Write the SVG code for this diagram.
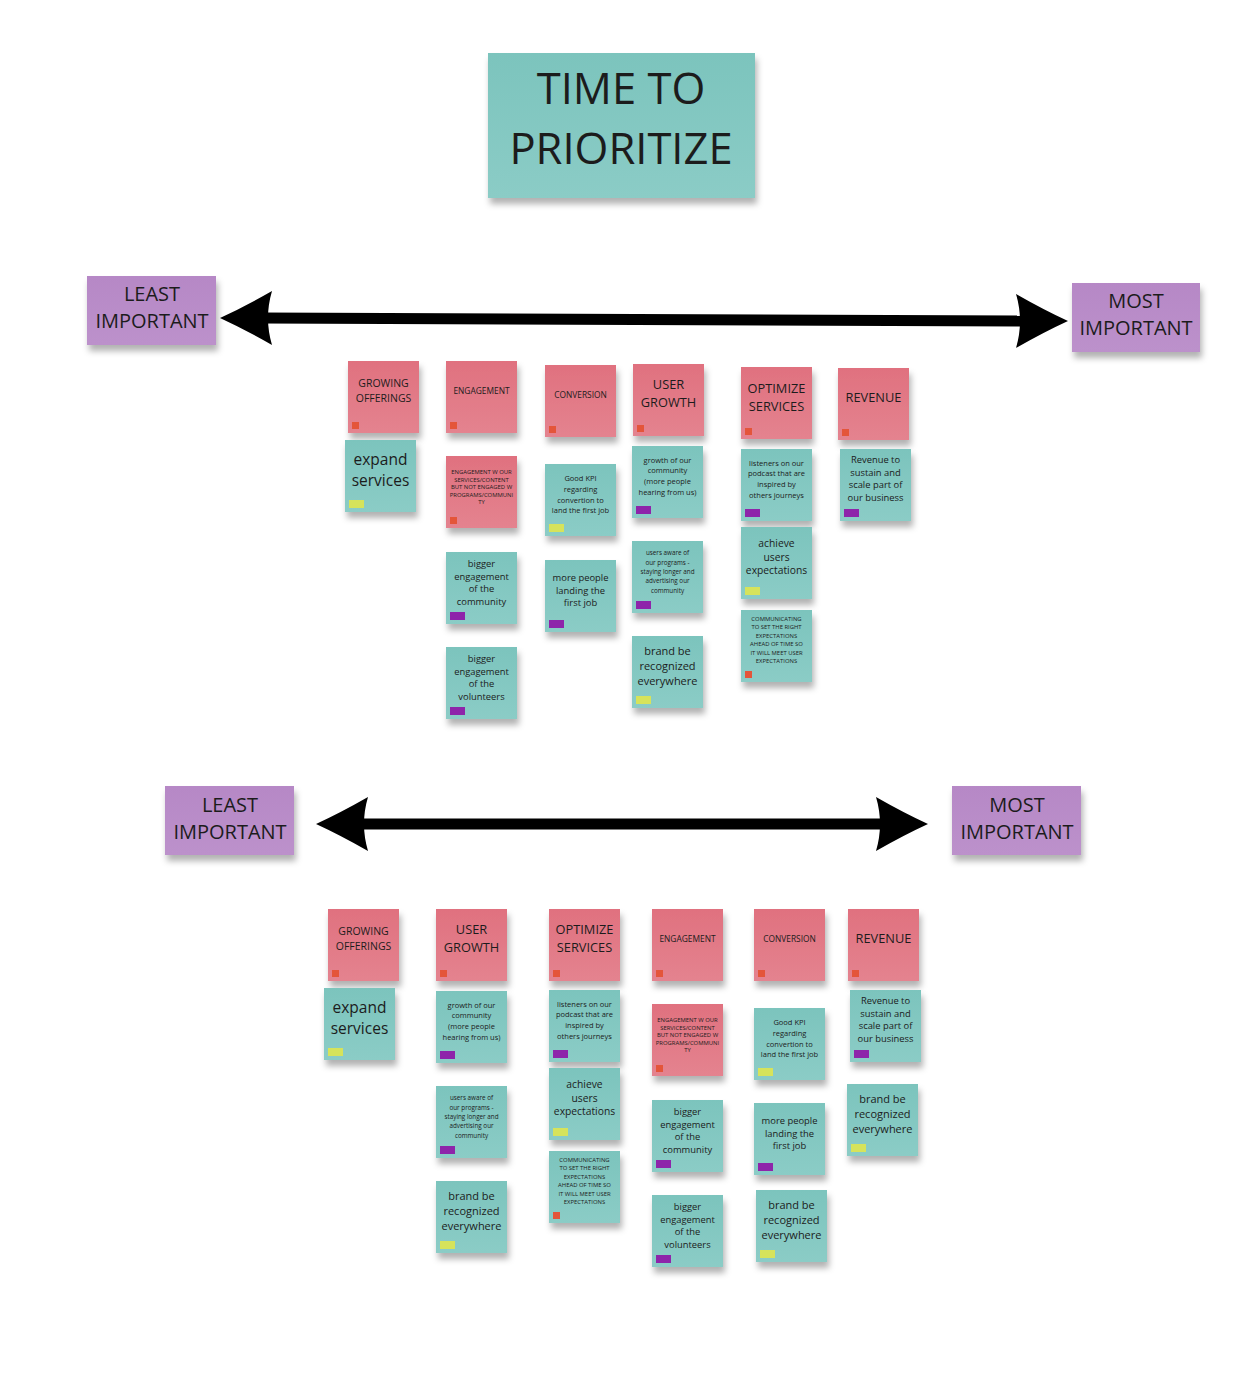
<svg xmlns="http://www.w3.org/2000/svg" xmlns:xlink="http://www.w3.org/1999/xlink" width="1258" height="1378" viewBox="0 0 1258 1378">
<style>
text{font-family:"Open Sans","DejaVu Sans",sans-serif;fill:#1c1c1c;text-anchor:middle}
.t{fill:url(#gT);filter:url(#sh)}
.p{fill:url(#gP);filter:url(#sh)}
.v{fill:url(#gV);filter:url(#sh)}
.ty{fill:#D6E35B}
.tp{fill:#8E24AA}
.tr{fill:#E4553A}
.f5{font-size:5.9px}
.f6{font-size:6.3px}
.f7{font-size:7.5px}
.f8{font-size:8.4px}
.f9{font-size:9.4px}
.f10{font-size:10.3px}
.f10h{font-size:10.5px}
.f11{font-size:11px}
.f13{font-size:12.8px}
.f15{font-size:15.5px}
.f20{font-size:20px}
.f45{font-size:43.5px}
.line{stroke:#000;stroke-width:11;fill:none}
.head{fill:#000}
</style>
<defs>
<linearGradient id="gT" x1="0" y1="0" x2="0" y2="1"><stop offset="0" stop-color="#7CC4BD"/><stop offset="1" stop-color="#8BCCC6"/></linearGradient>
<linearGradient id="gP" x1="0" y1="0" x2="0" y2="1"><stop offset="0" stop-color="#E0717F"/><stop offset="1" stop-color="#E4838F"/></linearGradient>
<linearGradient id="gV" x1="0" y1="0" x2="0" y2="1"><stop offset="0" stop-color="#B688C6"/><stop offset="1" stop-color="#BC91CB"/></linearGradient>
<filter id="sh" x="-20%" y="-20%" width="140%" height="160%"><feDropShadow dx="2" dy="6" stdDeviation="3" flood-color="#000" flood-opacity="0.3"/></filter>
<path id="ah" class="head" d="M0,0 Q24,-11 52,-27 Q44,0 52,27 Q24,11 0,0 Z"/>
</defs>
<rect width="1258" height="1378" fill="#fff"/>

<g id="connectors">
<path class="line" d="M262,318 L1026,321"/>
<use xlink:href="#ah" transform="translate(220,318)"/>
<use xlink:href="#ah" transform="translate(1068,321) scale(-1,1)"/>
<path class="line" d="M360,824 L886,824"/>
<use xlink:href="#ah" transform="translate(316,824)"/>
<use xlink:href="#ah" transform="translate(928,824) scale(-1,1)"/>
</g>

<g id="title" transform="translate(488,53)"><rect class="t" width="267" height="145"/><text class="f45" x="133" y="51">TIME TO</text><text class="f45" x="133" y="111">PRIORITIZE</text></g>

<g id="least-top" transform="translate(87,276)"><rect class="v" width="129" height="69"/><text class="f20" x="65" y="25">LEAST</text><text class="f20" x="65" y="52">IMPORTANT</text></g>
<g id="most-top" transform="translate(1072,283)"><rect class="v" width="128" height="69"/><text class="f20" x="64" y="25">MOST</text><text class="f20" x="64" y="52">IMPORTANT</text></g>
<g id="least-bottom" transform="translate(165,786)"><rect class="v" width="129" height="69"/><text class="f20" x="65" y="26">LEAST</text><text class="f20" x="65" y="53">IMPORTANT</text></g>
<g id="most-bottom" transform="translate(952,786)"><rect class="v" width="129" height="69"/><text class="f20" x="65" y="26">MOST</text><text class="f20" x="65" y="53">IMPORTANT</text></g>

<!-- TOP headers -->
<g id="top-h-growing" transform="translate(348,361)"><rect class="p" width="71" height="72"/><text class="f10h" x="35.5" y="26">GROWING</text><text class="f10h" x="35.5" y="41">OFFERINGS</text><rect class="tr" x="4" y="61" width="7" height="7"/></g>
<g id="top-h-engagement" transform="translate(446,361)"><rect class="p" width="71" height="72"/><text class="f8" x="35.5" y="33">ENGAGEMENT</text><rect class="tr" x="4" y="61" width="7" height="7"/></g>
<g id="top-h-conversion" transform="translate(545,365)"><rect class="p" width="71" height="72"/><text class="f8" x="35.5" y="33">CONVERSION</text><rect class="tr" x="4" y="61" width="7" height="7"/></g>
<g id="top-h-usergrowth" transform="translate(633,364)"><rect class="p" width="71" height="72"/><text class="f13" x="35.5" y="25">USER</text><text class="f13" x="35.5" y="43">GROWTH</text><rect class="tr" x="4" y="61" width="7" height="7"/></g>
<g id="top-h-optimize" transform="translate(741,367)"><rect class="p" width="71" height="72"/><text class="f13" x="35.5" y="26">OPTIMIZE</text><text class="f13" x="35.5" y="44">SERVICES</text><rect class="tr" x="4" y="61" width="7" height="7"/></g>
<g id="top-h-revenue" transform="translate(838,368)"><rect class="p" width="71" height="72"/><text class="f13" x="35.5" y="34">REVENUE</text><rect class="tr" x="4" y="61" width="7" height="7"/></g>

<!-- TOP cards -->
<g id="top-expand" transform="translate(345,440)"><rect class="t" width="71" height="72"/><text class="f15" x="35.5" y="24.5">expand</text><text class="f15" x="35.5" y="45.5">services</text><rect class="ty" x="4" y="60" width="15" height="8"/></g>
<g id="top-eng-note" transform="translate(446,456)"><rect class="p" width="71" height="72"/><text class="f5" x="35.5" y="18">ENGAGEMENT W OUR</text><text class="f5" x="35.5" y="25.5">SERVICES/CONTENT</text><text class="f5" x="35.5" y="33">BUT NOT ENGAGED W</text><text class="f5" x="35.5" y="40.5">PROGRAMS/COMMUNI</text><text class="f5" x="35.5" y="48">TY</text><rect class="tr" x="4" y="61" width="7" height="7"/></g>
<g id="top-bigger-community" transform="translate(446,552)"><rect class="t" width="71" height="72"/><text class="f9" x="35.5" y="14.5">bigger</text><text class="f9" x="35.5" y="27.5">engagement</text><text class="f9" x="35.5" y="39.5">of the</text><text class="f9" x="35.5" y="52.5">community</text><rect class="tp" x="4" y="60" width="15" height="8"/></g>
<g id="top-bigger-volunteers" transform="translate(446,647)"><rect class="t" width="71" height="72"/><text class="f9" x="35.5" y="14.5">bigger</text><text class="f9" x="35.5" y="27.5">engagement</text><text class="f9" x="35.5" y="39.5">of the</text><text class="f9" x="35.5" y="52.5">volunteers</text><rect class="tp" x="4" y="60" width="15" height="8"/></g>
<g id="top-kpi" transform="translate(545,464)"><rect class="t" width="71" height="72"/><text class="f7" x="35.5" y="16.6">Good KPI</text><text class="f7" x="35.5" y="27.6">regarding</text><text class="f7" x="35.5" y="38.6">convertion to</text><text class="f7" x="35.5" y="48.6">land the first job</text><rect class="ty" x="4" y="60" width="15" height="8"/></g>
<g id="top-more-people" transform="translate(545,560)"><rect class="t" width="71" height="72"/><text class="f9" x="35.5" y="21.3">more people</text><text class="f9" x="35.5" y="34.3">landing the</text><text class="f9" x="35.5" y="46.3">first job</text><rect class="tp" x="4" y="60" width="15" height="8"/></g>
<g id="top-growth-community" transform="translate(632,446)"><rect class="t" width="71" height="72"/><text class="f7" x="35.5" y="16.6">growth of our</text><text class="f7" x="35.5" y="26.6">community</text><text class="f7" x="35.5" y="37.6">(more people</text><text class="f7" x="35.5" y="48.6">hearing from us)</text><rect class="tp" x="4" y="60" width="15" height="8"/></g>
<g id="top-users-aware" transform="translate(632,541)"><rect class="t" width="71" height="72"/><text class="f6" x="35.5" y="14.2">users aware of</text><text class="f6" x="35.5" y="23.6">our programs -</text><text class="f6" x="35.5" y="33">staying longer and</text><text class="f6" x="35.5" y="42.4">advertising our</text><text class="f6" x="35.5" y="51.8">community</text><rect class="tp" x="4" y="60" width="15" height="8"/></g>
<g id="top-brand" transform="translate(632,636)"><rect class="t" width="71" height="72"/><text class="f11" x="35.5" y="19">brand be</text><text class="f11" x="35.5" y="34">recognized</text><text class="f11" x="35.5" y="49">everywhere</text><rect class="ty" x="4" y="60" width="15" height="8"/></g>
<g id="top-listeners" transform="translate(741,449)"><rect class="t" width="71" height="72"/><text class="f7" x="35.5" y="16.7">listeners on our</text><text class="f7" x="35.5" y="26.7">podcast that are</text><text class="f7" x="35.5" y="37.7">inspired by</text><text class="f7" x="35.5" y="48.7">others journeys</text><rect class="tp" x="4" y="60" width="15" height="8"/></g>
<g id="top-achieve" transform="translate(741,527)"><rect class="t" width="71" height="72"/><text class="f10" x="35.5" y="19.6">achieve</text><text class="f10" x="35.5" y="33.6">users</text><text class="f10" x="35.5" y="46.6">expectations</text><rect class="ty" x="4" y="60" width="15" height="8"/></g>
<g id="top-communicating" transform="translate(741,610)"><rect class="t" width="71" height="72"/><text class="f5" x="35.5" y="11">COMMUNICATING</text><text class="f5" x="35.5" y="19.4">TO SET THE RIGHT</text><text class="f5" x="35.5" y="27.8">EXPECTATIONS</text><text class="f5" x="35.5" y="36.2">AHEAD OF TIME SO</text><text class="f5" x="35.5" y="44.6">IT WILL MEET USER</text><text class="f5" x="35.5" y="53">EXPECTATIONS</text><rect class="tr" x="4" y="61" width="7" height="7"/></g>
<g id="top-revenue-sustain" transform="translate(840,449)"><rect class="t" width="71" height="72"/><text class="f9" x="35.5" y="14.3">Revenue to</text><text class="f9" x="35.5" y="27.3">sustain and</text><text class="f9" x="35.5" y="39.3">scale part of</text><text class="f9" x="35.5" y="52.3">our business</text><rect class="tp" x="4" y="60" width="15" height="8"/></g>

<!-- BOTTOM headers -->
<g id="bot-h-growing" transform="translate(328,909)"><rect class="p" width="71" height="72"/><text class="f10h" x="35.5" y="26">GROWING</text><text class="f10h" x="35.5" y="41">OFFERINGS</text><rect class="tr" x="4" y="61" width="7" height="7"/></g>
<g id="bot-h-usergrowth" transform="translate(436,909)"><rect class="p" width="71" height="72"/><text class="f13" x="35.5" y="25">USER</text><text class="f13" x="35.5" y="43">GROWTH</text><rect class="tr" x="4" y="61" width="7" height="7"/></g>
<g id="bot-h-optimize" transform="translate(549,909)"><rect class="p" width="71" height="72"/><text class="f13" x="35.5" y="25">OPTIMIZE</text><text class="f13" x="35.5" y="43">SERVICES</text><rect class="tr" x="4" y="61" width="7" height="7"/></g>
<g id="bot-h-engagement" transform="translate(652,909)"><rect class="p" width="71" height="72"/><text class="f8" x="35.5" y="33">ENGAGEMENT</text><rect class="tr" x="4" y="61" width="7" height="7"/></g>
<g id="bot-h-conversion" transform="translate(754,909)"><rect class="p" width="71" height="72"/><text class="f8" x="35.5" y="33">CONVERSION</text><rect class="tr" x="4" y="61" width="7" height="7"/></g>
<g id="bot-h-revenue" transform="translate(848,909)"><rect class="p" width="71" height="72"/><text class="f13" x="35.5" y="34">REVENUE</text><rect class="tr" x="4" y="61" width="7" height="7"/></g>

<!-- BOTTOM cards -->
<g id="bot-expand" transform="translate(324,988)"><rect class="t" width="71" height="72"/><text class="f15" x="35.5" y="24.5">expand</text><text class="f15" x="35.5" y="45.5">services</text><rect class="ty" x="4" y="60" width="15" height="8"/></g>
<g id="bot-growth-community" transform="translate(436,991)"><rect class="t" width="71" height="72"/><text class="f7" x="35.5" y="16.6">growth of our</text><text class="f7" x="35.5" y="26.6">community</text><text class="f7" x="35.5" y="37.6">(more people</text><text class="f7" x="35.5" y="48.6">hearing from us)</text><rect class="tp" x="4" y="60" width="15" height="8"/></g>
<g id="bot-users-aware" transform="translate(436,1086)"><rect class="t" width="71" height="72"/><text class="f6" x="35.5" y="14.2">users aware of</text><text class="f6" x="35.5" y="23.6">our programs -</text><text class="f6" x="35.5" y="33">staying longer and</text><text class="f6" x="35.5" y="42.4">advertising our</text><text class="f6" x="35.5" y="51.8">community</text><rect class="tp" x="4" y="60" width="15" height="8"/></g>
<g id="bot-brand-1" transform="translate(436,1181)"><rect class="t" width="71" height="72"/><text class="f11" x="35.5" y="19">brand be</text><text class="f11" x="35.5" y="34">recognized</text><text class="f11" x="35.5" y="49">everywhere</text><rect class="ty" x="4" y="60" width="15" height="8"/></g>
<g id="bot-listeners" transform="translate(549,990)"><rect class="t" width="71" height="72"/><text class="f7" x="35.5" y="16.7">listeners on our</text><text class="f7" x="35.5" y="26.7">podcast that are</text><text class="f7" x="35.5" y="37.7">inspired by</text><text class="f7" x="35.5" y="48.7">others journeys</text><rect class="tp" x="4" y="60" width="15" height="8"/></g>
<g id="bot-achieve" transform="translate(549,1068)"><rect class="t" width="71" height="72"/><text class="f10" x="35.5" y="19.6">achieve</text><text class="f10" x="35.5" y="33.6">users</text><text class="f10" x="35.5" y="46.6">expectations</text><rect class="ty" x="4" y="60" width="15" height="8"/></g>
<g id="bot-communicating" transform="translate(549,1151)"><rect class="t" width="71" height="72"/><text class="f5" x="35.5" y="11">COMMUNICATING</text><text class="f5" x="35.5" y="19.4">TO SET THE RIGHT</text><text class="f5" x="35.5" y="27.8">EXPECTATIONS</text><text class="f5" x="35.5" y="36.2">AHEAD OF TIME SO</text><text class="f5" x="35.5" y="44.6">IT WILL MEET USER</text><text class="f5" x="35.5" y="53">EXPECTATIONS</text><rect class="tr" x="4" y="61" width="7" height="7"/></g>
<g id="bot-eng-note" transform="translate(652,1004)"><rect class="p" width="71" height="72"/><text class="f5" x="35.5" y="18">ENGAGEMENT W OUR</text><text class="f5" x="35.5" y="25.5">SERVICES/CONTENT</text><text class="f5" x="35.5" y="33">BUT NOT ENGAGED W</text><text class="f5" x="35.5" y="40.5">PROGRAMS/COMMUNI</text><text class="f5" x="35.5" y="48">TY</text><rect class="tr" x="4" y="61" width="7" height="7"/></g>
<g id="bot-bigger-community" transform="translate(652,1100)"><rect class="t" width="71" height="72"/><text class="f9" x="35.5" y="14.5">bigger</text><text class="f9" x="35.5" y="27.5">engagement</text><text class="f9" x="35.5" y="39.5">of the</text><text class="f9" x="35.5" y="52.5">community</text><rect class="tp" x="4" y="60" width="15" height="8"/></g>
<g id="bot-bigger-volunteers" transform="translate(652,1195)"><rect class="t" width="71" height="72"/><text class="f9" x="35.5" y="14.5">bigger</text><text class="f9" x="35.5" y="27.5">engagement</text><text class="f9" x="35.5" y="39.5">of the</text><text class="f9" x="35.5" y="52.5">volunteers</text><rect class="tp" x="4" y="60" width="15" height="8"/></g>
<g id="bot-kpi" transform="translate(754,1008)"><rect class="t" width="71" height="72"/><text class="f7" x="35.5" y="16.6">Good KPI</text><text class="f7" x="35.5" y="27.6">regarding</text><text class="f7" x="35.5" y="38.6">convertion to</text><text class="f7" x="35.5" y="48.6">land the first job</text><rect class="ty" x="4" y="60" width="15" height="8"/></g>
<g id="bot-more-people" transform="translate(754,1103)"><rect class="t" width="71" height="72"/><text class="f9" x="35.5" y="21.3">more people</text><text class="f9" x="35.5" y="34.3">landing the</text><text class="f9" x="35.5" y="46.3">first job</text><rect class="tp" x="4" y="60" width="15" height="8"/></g>
<g id="bot-brand-2" transform="translate(756,1190)"><rect class="t" width="71" height="72"/><text class="f11" x="35.5" y="19">brand be</text><text class="f11" x="35.5" y="34">recognized</text><text class="f11" x="35.5" y="49">everywhere</text><rect class="ty" x="4" y="60" width="15" height="8"/></g>
<g id="bot-revenue-sustain" transform="translate(850,990)"><rect class="t" width="71" height="72"/><text class="f9" x="35.5" y="14.3">Revenue to</text><text class="f9" x="35.5" y="27.3">sustain and</text><text class="f9" x="35.5" y="39.3">scale part of</text><text class="f9" x="35.5" y="52.3">our business</text><rect class="tp" x="4" y="60" width="15" height="8"/></g>
<g id="bot-brand-3" transform="translate(847,1084)"><rect class="t" width="71" height="72"/><text class="f11" x="35.5" y="19">brand be</text><text class="f11" x="35.5" y="34">recognized</text><text class="f11" x="35.5" y="49">everywhere</text><rect class="ty" x="4" y="60" width="15" height="8"/></g>
</svg>
